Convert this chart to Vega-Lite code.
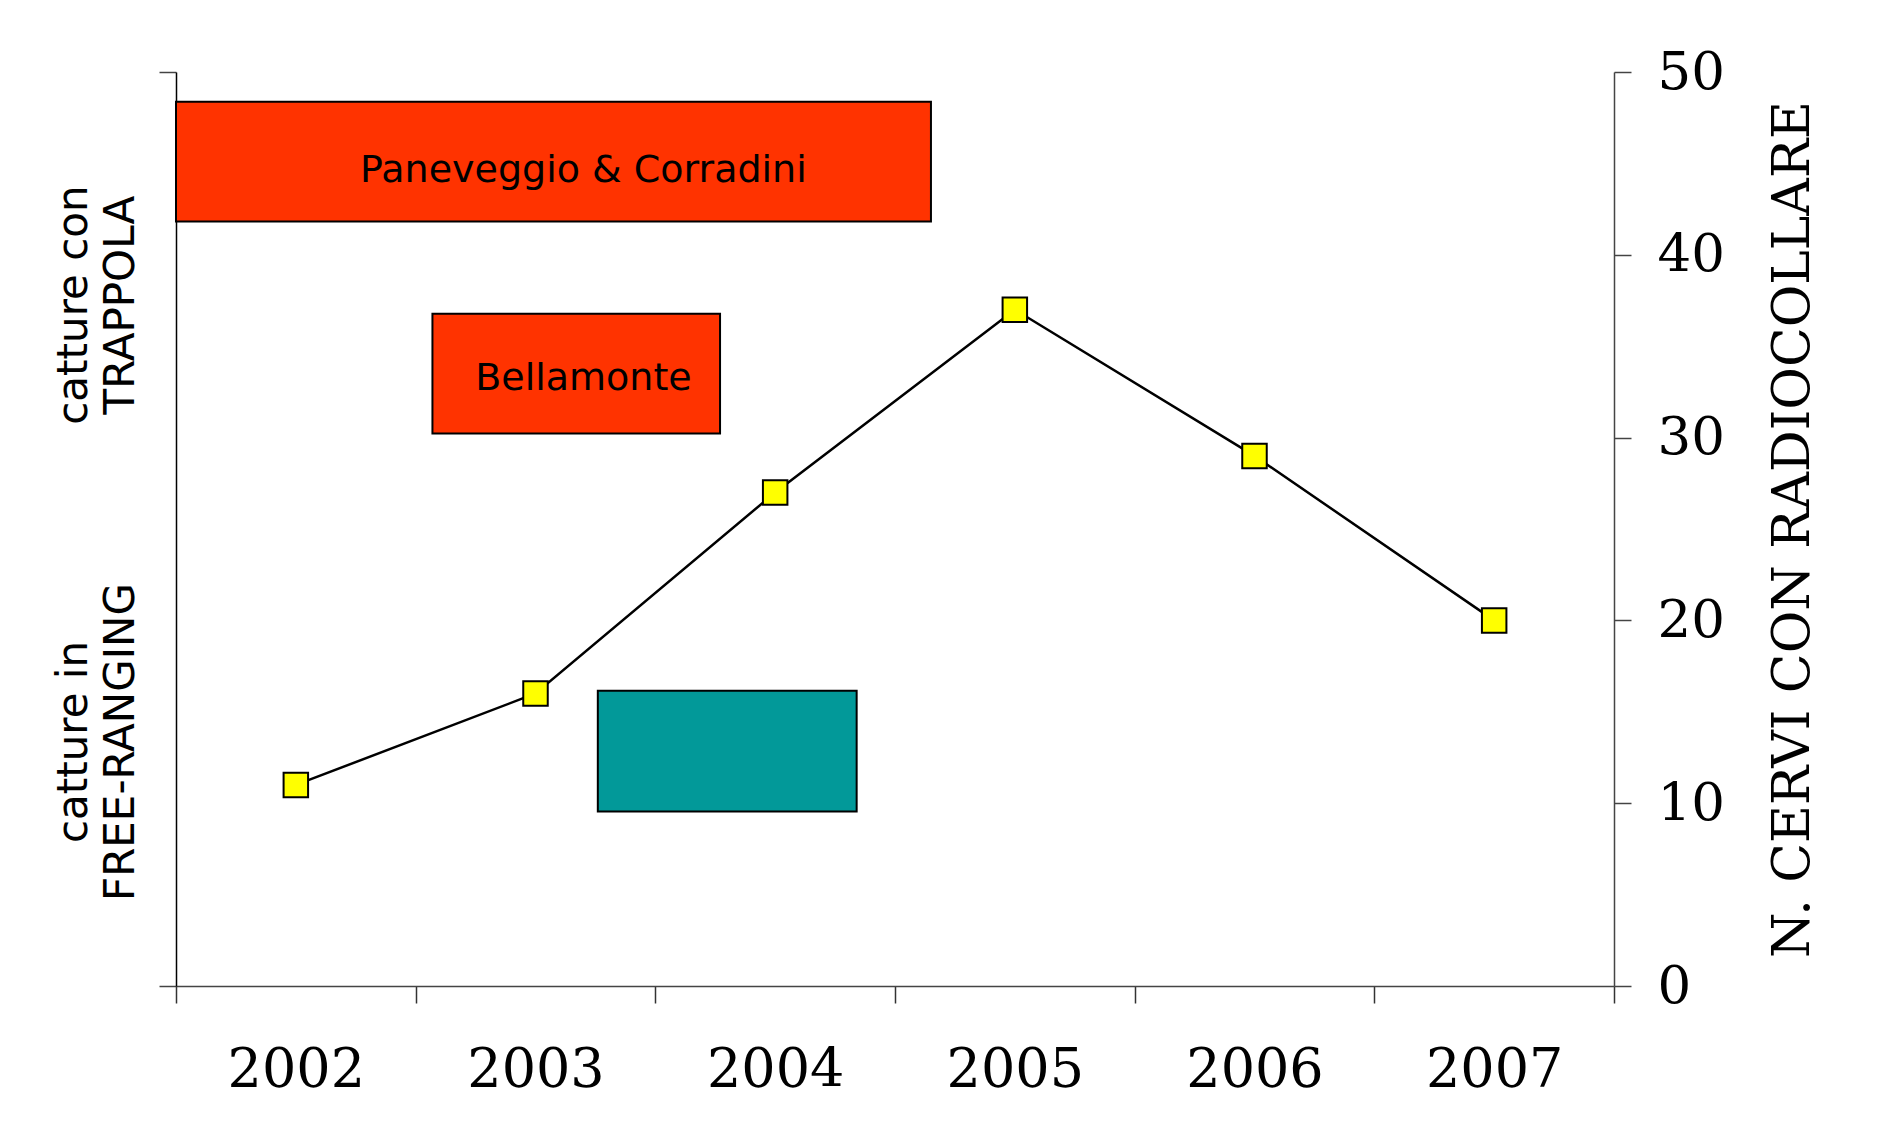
{
  "$schema": "https://vega.github.io/schema/vega-lite/v6.json",
  "width": 1438,
  "height": 914,
  "autosize": {"type": "none"},
  "padding": {"left": 176, "top": 72, "right": 263, "bottom": 155},
  "background": "white",
  "config": {"view": {"stroke": null}},
  "datasets": {
    "boxes": [
      {"label": "Paneveggio & Corradini", "x1": 2001.5, "x2": 2004.65, "y1": 48.37, "y2": 41.82, "kind": "trappola"},
      {"label": "Bellamonte", "x1": 2002.57, "x2": 2003.77, "y1": 36.78, "y2": 30.23, "kind": "trappola"},
      {"label": "", "x1": 2003.26, "x2": 2004.34, "y1": 16.15, "y2": 9.54, "kind": "free"}
    ],
    "boxlabels": [
      {"label": "Paneveggio & Corradini", "x": 2003.2, "y": 44.6},
      {"label": "Bellamonte", "x": 2003.2, "y": 33.2}
    ],
    "series": [
      {"anno": 2002, "n": 11},
      {"anno": 2003, "n": 16},
      {"anno": 2004, "n": 27},
      {"anno": 2005, "n": 37},
      {"anno": 2006, "n": 29},
      {"anno": 2007, "n": 20}
    ],
    "sidelabels": [
      {"text": "catture con", "x": 2001.075, "y": 37.25},
      {"text": "TRAPPOLA", "x": 2001.27, "y": 37.25},
      {"text": "catture in", "x": 2001.075, "y": 13.35},
      {"text": "FREE-RANGING", "x": 2001.27, "y": 13.35}
    ]
  },
  "resolve": {"scale": {"y": "independent"}, "axis": {"y": "independent"}},
  "layer": [
    {
      "data": {"name": "boxes"},
      "mark": {"type": "rect", "stroke": "black", "strokeWidth": 2},
      "encoding": {
        "x": {
          "field": "x1", "type": "quantitative",
          "scale": {"domain": [2001.5, 2007.5], "nice": false, "zero": false},
          "axis": {
            "values": [2001.5, 2002, 2002.5, 2003, 2003.5, 2004, 2004.5, 2005, 2005.5, 2006, 2006.5, 2007, 2007.5],
            "labelExpr": "datum.value % 1 == 0 ? format(datum.value, 'd') : ''",
            "tickOpacity": {"condition": {"test": "datum.value % 1 != 0", "value": 1}, "value": 0},
            "tickSize": 17, "tickColor": "#333", "tickWidth": 1.5,
            "domainColor": "#444", "domainWidth": 1.5,
            "labelFont": "DejaVu Serif", "labelFontSize": 54, "labelColor": "black",
            "labelPadding": 40, "grid": false, "title": null, "labelFlush": false, "labelOverlap": false
          }
        },
        "x2": {"field": "x2"},
        "y": {
          "field": "y1", "type": "quantitative",
          "scale": {"domain": [0, 50], "nice": false},
          "axis": {
            "orient": "left", "values": [0, 50], "labels": false, "title": null, "grid": false,
            "tickSize": 17, "tickColor": "#444", "tickWidth": 1.5, "domainColor": "black", "domainWidth": 1.5
          }
        },
        "y2": {"field": "y2"},
        "color": {
          "field": "kind", "type": "nominal",
          "scale": {"domain": ["trappola", "free"], "range": ["#FF3300", "#029999"]},
          "legend": null
        }
      }
    },
    {
      "data": {"name": "boxlabels"},
      "mark": {"type": "text", "font": "DejaVu Sans", "fontSize": 38, "color": "black", "align": "center", "baseline": "middle"},
      "encoding": {
        "x": {"field": "x", "type": "quantitative"},
        "y": {"field": "y", "type": "quantitative", "scale": {"domain": [0, 50], "nice": false}, "axis": null},
        "text": {"field": "label"}
      }
    },
    {
      "data": {"name": "sidelabels"},
      "mark": {"type": "text", "font": "DejaVu Sans", "fontSize": 42, "color": "black", "align": "center", "baseline": "middle", "angle": 270, "clip": false},
      "encoding": {
        "x": {"field": "x", "type": "quantitative"},
        "y": {"field": "y", "type": "quantitative", "scale": {"domain": [0, 50], "nice": false}, "axis": null},
        "text": {"field": "text"}
      }
    },
    {
      "data": {"name": "series"},
      "mark": {"type": "line", "color": "black", "strokeWidth": 2.5},
      "encoding": {
        "x": {"field": "anno", "type": "quantitative"},
        "y": {
          "field": "n", "type": "quantitative",
          "scale": {"domain": [0, 50], "nice": false},
          "axis": {
            "orient": "right", "values": [0, 10, 20, 30, 40, 50], "grid": false,
            "tickSize": 17, "tickColor": "#444", "tickWidth": 1.5, "domainColor": "#444", "domainWidth": 1.5,
            "labelFont": "DejaVu Serif", "labelFontSize": 53, "labelColor": "black", "labelPadding": 26,
            "title": "N. CERVI CON RADIOCOLLARE", "titleFont": "DejaVu Serif", "titleFontSize": 52,
            "titleFontWeight": "normal", "titleColor": "black", "titleAngle": 270, "titlePadding": 95
          }
        }
      }
    },
    {
      "data": {"name": "series"},
      "mark": {"type": "point", "shape": "square", "filled": true, "fill": "#FFFF00", "stroke": "black", "strokeWidth": 2, "size": 600, "opacity": 1},
      "encoding": {
        "x": {"field": "anno", "type": "quantitative"},
        "y": {"field": "n", "type": "quantitative", "scale": {"domain": [0, 50], "nice": false}, "axis": null}
      }
    }
  ]
}
